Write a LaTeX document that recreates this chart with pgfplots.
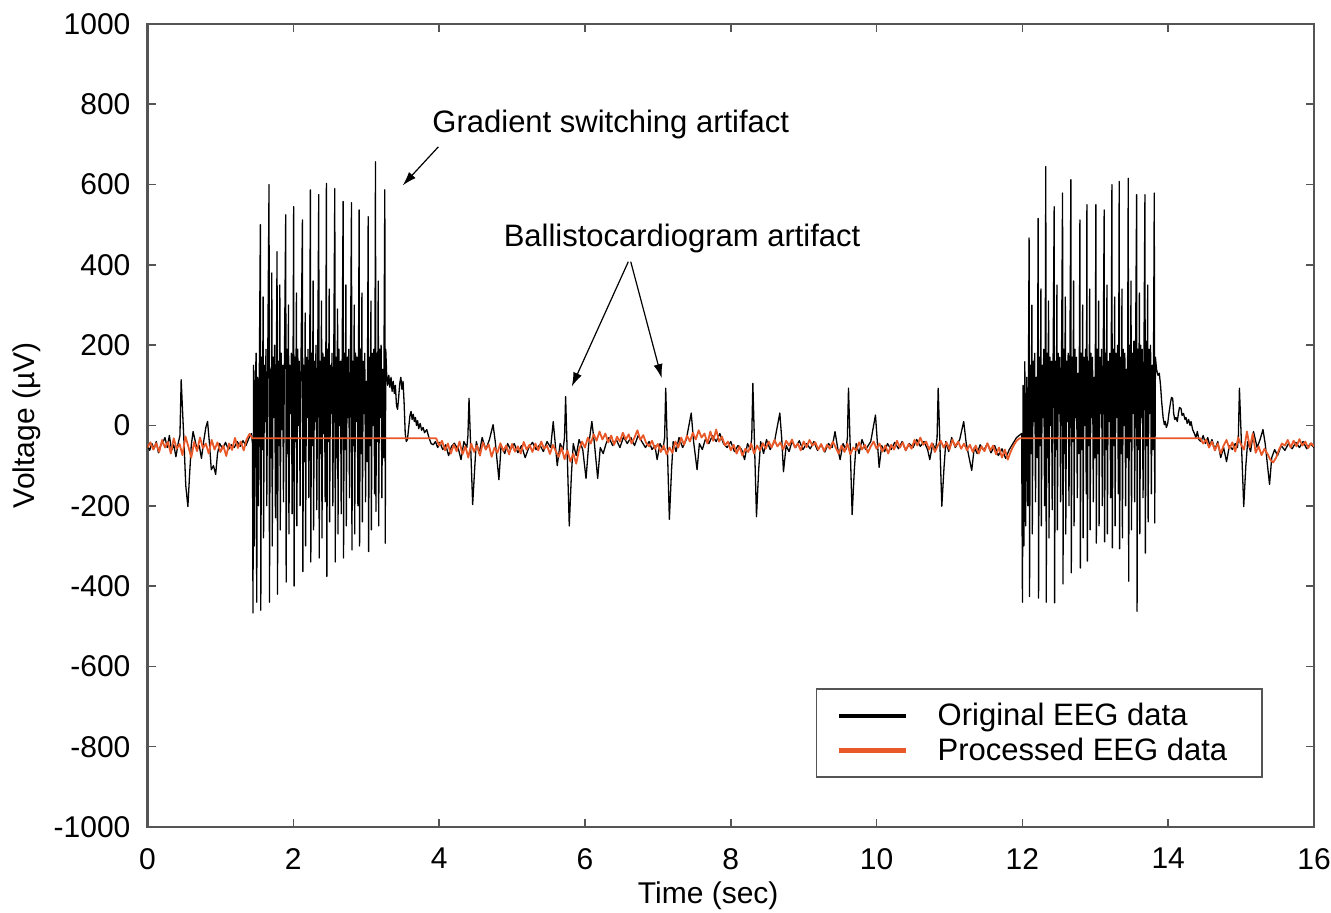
\documentclass[border=0pt]{standalone}
\usepackage{fontspec}
\setmainfont{Liberation Sans}
\usepackage{pgfplots}
\pgfplotsset{compat=1.18}
\usetikzlibrary{arrows.meta}
\definecolor{eegorange}{RGB}{232,88,40}
\definecolor{framegray}{RGB}{85,85,85}
\newcommand{\chartfont}{\fontsize{15}{18}\selectfont}
\newcommand{\notefont}{\fontsize{15.5}{18}\selectfont}

\begin{document}
\begin{tikzpicture}
\begin{axis}[
  name=ax,
  scale only axis,
  width=583.25pt, height=401.5pt,
  xmin=0, xmax=16, ymin=-1000, ymax=1000,
  xtick={0,2,...,16}, xticklabels={0,2,4,6,8,10,12,14,16},
  ytick={-1000,-800,...,1000},
  yticklabels={-1000,-800,-600,-400,-200,0,200,400,600,800,1000},
  tick align=inside, major tick length=4pt,
  tick style={framegray, line width=0.8pt},
  axis line style={framegray, line width=1.1pt},
  ticklabel style={font=\chartfont},
  xticklabel style={yshift=-7pt},
  yticklabel style={xshift=-5pt},
  xlabel={Time (sec)}, ylabel={Voltage (µV)},
  every axis x label/.style={at={([yshift=-34.5pt]axis description cs:0.4807,0)}, anchor=center, font=\chartfont},
  every axis y label/.style={at={([xshift=-60.5pt]axis description cs:0,0.5)}, rotate=90, anchor=center, font=\chartfont},
  legend style={at={(axis description cs:1,0)}, anchor=south east,
    xshift=-25.5pt, yshift=24.5pt, draw=framegray, line width=0.8pt,
    font=\notefont, inner xsep=10pt, inner ysep=7pt, row sep=4.5pt,
    column sep=0pt, nodes={inner sep=0pt}},
  legend cell align=left,
  legend image code/.code={\draw[line width=2.2pt] (0pt,0pt) -- (33.5pt,0pt); \path[draw=none] (0pt,0pt) -- (49.5pt,0pt);},
]

% original EEG
\addplot[black, line width=0.65pt, line join=round] coordinates {
(0.00,-50) (0.03,-62) (0.06,-45) (0.09,-58) (0.12,-40) (0.15,-68) (0.18,-50) (0.21,-42)
(0.24,-30) (0.27,-55) (0.30,-25) (0.33,-62) (0.36,-48) (0.39,-78) (0.42,-45) (0.445,-25)
(0.462,114) (0.475,60) (0.50,-40) (0.525,-150) (0.554,-202) (0.575,-130) (0.60,-50) (0.625,-15)
(0.65,-35) (0.68,-60) (0.71,-50) (0.74,-82) (0.77,-40) (0.80,-5) (0.824,10) (0.85,-45)
(0.875,-110) (0.905,-100) (0.935,-122) (0.96,-70) (0.99,-45) (1.03,-58) (1.07,-42) (1.11,-60)
(1.15,-48) (1.19,-55) (1.23,-40) (1.27,-52) (1.31,-38) (1.35,-50) (1.39,-32) (1.425,-20) (1.440,-45)
(1.447,-467) (1.455,150) (1.465,-300) (1.478,100) (1.490,180) (1.498,-440) (1.510,120) (1.522,-200) (1.535,160)
(1.548,500) (1.554,-460) (1.565,170) (1.575,-60) (1.586,320) (1.592,-280) (1.604,150) (1.614,10) (1.625,190) (1.636,-200) (1.647,110)
(1.667,600) (1.673,-440) (1.684,140) (1.694,-80) (1.705,380) (1.711,-300) (1.723,170) (1.733,20) (1.744,200) (1.755,-230) (1.766,90)
(1.777,433) (1.783,-420) (1.794,160) (1.804,-50) (1.815,350) (1.821,-260) (1.833,180) (1.843,-10) (1.854,150) (1.865,-190) (1.876,120)
(1.896,525) (1.902,-390) (1.913,190) (1.923,-70) (1.934,300) (1.940,-270) (1.952,150) (1.962,30) (1.973,180) (1.984,-220) (1.995,100)
(2.005,545) (2.011,-400) (2.022,170) (2.032,-40) (2.043,330) (2.049,-250) (2.061,190) (2.071,0) (2.082,160) (2.093,-200) (2.104,130)
(2.125,512) (2.131,-364) (2.142,150) (2.152,-90) (2.163,280) (2.169,-300) (2.181,170) (2.191,20) (2.202,190) (2.213,-180) (2.224,110)
(2.234,587) (2.240,-340) (2.251,180) (2.261,-50) (2.272,360) (2.278,-260) (2.290,160) (2.300,10) (2.311,200) (2.322,-210) (2.333,120)
(2.349,575) (2.355,-330) (2.366,160) (2.376,-70) (2.387,310) (2.393,-280) (2.405,180) (2.415,-20) (2.426,170) (2.437,-190) (2.445,100)
(2.454,603) (2.460,-376) (2.471,190) (2.481,-40) (2.492,340) (2.498,-240) (2.510,150) (2.520,30) (2.531,180) (2.542,-200) (2.553,120)
(2.569,590) (2.575,-340) (2.586,170) (2.596,-80) (2.607,290) (2.613,-270) (2.625,190) (2.635,0) (2.646,160) (2.657,-220) (2.668,110)
(2.683,558) (2.689,-330) (2.700,180) (2.710,-60) (2.721,350) (2.727,-250) (2.739,170) (2.749,20) (2.760,190) (2.771,-180) (2.782,100)
(2.798,555) (2.804,-310) (2.815,160) (2.825,-50) (2.836,300) (2.842,-270) (2.854,180) (2.864,10) (2.875,170) (2.886,-200) (2.893,120)
(2.903,537) (2.909,-300) (2.920,190) (2.930,-70) (2.941,330) (2.947,-240) (2.959,160) (2.969,30) (2.980,180) (2.991,-190) (3.002,110) (3.012,-90)
(3.027,520) (3.033,-314) (3.044,170) (3.054,-50) (3.065,310) (3.071,-260) (3.083,180) (3.093,0) (3.104,190) (3.115,-170)
(3.127,657) (3.133,-214) (3.144,180) (3.154,-40) (3.165,360) (3.171,-250) (3.183,190) (3.193,20) (3.204,200) (3.215,-180) (3.226,140) (3.237,-80)
(3.255,587) (3.261,-293) (3.268,190)
(3.280,130) (3.295,100) (3.310,125) (3.325,95) (3.340,120) (3.355,85) (3.370,110) (3.385,80) (3.400,100) (3.415,50)
(3.430,40) (3.445,70) (3.460,105) (3.475,120) (3.490,90) (3.505,110) (3.520,55) (3.535,-20) (3.550,-40) (3.565,-35)
(3.580,-10) (3.600,25) (3.615,35) (3.630,15) (3.645,28) (3.660,10) (3.675,20) (3.690,0) (3.705,12) (3.720,-8)
(3.740,5) (3.760,-12) (3.780,-5) (3.800,-18) (3.830,-10) (3.860,-30) (3.890,-45) (3.920,-48) (3.950,-40)
(3.98,-55) (4.01,-42) (4.05,-60) (4.09,-48) (4.13,-75) (4.17,-52) (4.21,-44) (4.25,-58)
(4.26,-55) (4.30,-85) (4.34,-40) (4.38,-55) (4.395,-25) (4.41,68) (4.46,-197) (4.49,-100) (4.51,-40) (4.55,-70)
(4.59,-30) (4.64,-60) (4.69,-35) (4.74,2) (4.77,-40) (4.82,-135) (4.85,-50) (4.90,-70) (4.94,-45)
(4.98,-60) (5.03,-45) (5.08,-68) (5.13,-50) (5.18,-80) (5.23,-55) (5.28,-42) (5.33,-60) (5.38,-48) (5.43,-65) (5.48,-40) (5.53,-55)
(5.565,10) (5.62,-100) (5.66,-45) (5.70,-60) (5.72,-30) (5.735,72) (5.785,-250) (5.815,-120) (5.84,-45) (5.88,-75)
(5.92,-35) (5.97,-60) (6.015,-132) (6.05,-50) (6.095,10) (6.13,-45) (6.175,-132) (6.21,-55) (6.25,-70) (6.29,-45)
(6.33,-30) (6.38,-50) (6.43,-35) (6.48,-55) (6.53,-28) (6.58,-45) (6.63,-30) (6.68,-50) (6.73,-25) (6.78,-40) (6.83,-55) (6.88,-40) (6.92,-60)
(6.96,-50) (6.99,-85) (7.03,-45) (7.07,-60) (7.093,-30) (7.108,93) (7.158,-234) (7.188,-110) (7.21,-40) (7.25,-65)
(7.29,-30) (7.34,-55) (7.39,-35) (7.458,31) (7.49,-40) (7.538,-110) (7.57,-45) (7.61,-60) (7.65,-35)
(7.70,-45) (7.75,-25) (7.80,-40) (7.85,-20) (7.90,-45) (7.95,-55) (8.00,-40) (8.05,-65) (8.10,-50)
(8.15,-60) (8.19,-85) (8.23,-45) (8.27,-60) (8.288,-30) (8.303,105) (8.353,-227) (8.383,-110) (8.41,-40) (8.45,-70)
(8.49,-35) (8.54,-60) (8.60,-40) (8.673,31) (8.70,-35) (8.723,-115) (8.76,-50) (8.80,-65) (8.84,-40)
(8.89,-55) (8.94,-38) (8.99,-60) (9.04,-45) (9.09,-58) (9.14,-40) (9.19,-62) (9.24,-48) (9.29,-66) (9.34,-45) (9.39,-55) (9.43,-15)
(9.47,-60) (9.50,-85) (9.54,-45) (9.58,-60) (9.600,-30) (9.615,93) (9.665,-222) (9.695,-110) (9.72,-45) (9.76,-70)
(9.80,-35) (9.85,-60) (9.92,-40) (9.985,26) (10.01,-40) (10.035,-104) (10.07,-50) (10.11,-65) (10.15,-45)
(10.20,-60) (10.25,-42) (10.30,-58) (10.35,-40) (10.40,-62) (10.45,-45) (10.50,-55) (10.55,-35) (10.60,-52) (10.65,-40)
(10.70,-60) (10.73,-85) (10.77,-45) (10.81,-60) (10.83,-30) (10.845,93) (10.895,-201) (10.925,-105) (10.95,-40) (10.99,-65)
(11.03,-30) (11.08,-55) (11.14,-35) (11.195,10) (11.23,-45) (11.305,-112) (11.34,-55) (11.38,-70)
(11.42,-48) (11.47,-62) (11.52,-45) (11.57,-68) (11.62,-50) (11.67,-75) (11.72,-58) (11.77,-82) (11.82,-60) (11.87,-45) (11.92,-30) (11.99,-20)
(12.001,-440) (12.010,100) (12.020,-300) (12.033,159) (12.045,-250) (12.060,120) (12.075,-200)
(12.092,467) (12.098,-426) (12.109,150) (12.119,-70) (12.130,300) (12.136,-270) (12.148,160) (12.158,10) (12.169,180) (12.180,-190) (12.191,120) (12.204,-80)
(12.216,516) (12.222,-430) (12.233,170) (12.243,-50) (12.254,340) (12.260,-250) (12.272,150) (12.282,20) (12.293,190) (12.304,-200) (12.312,100)
(12.321,645) (12.327,-440) (12.338,180) (12.348,-80) (12.359,310) (12.365,-280) (12.377,170) (12.387,0) (12.398,160) (12.409,-210) (12.420,130)
(12.436,545) (12.442,-442) (12.453,160) (12.463,-60) (12.474,350) (12.480,-260) (12.492,180) (12.502,30) (12.513,170) (12.524,-190) (12.535,110)
(12.551,579) (12.557,-395) (12.568,190) (12.578,-70) (12.589,320) (12.595,-270) (12.607,160) (12.617,10) (12.628,180) (12.639,-200) (12.650,120)
(12.665,612) (12.671,-367) (12.682,170) (12.692,-40) (12.703,360) (12.709,-250) (12.721,190) (12.731,20) (12.742,170) (12.753,-180) (12.764,130) (12.776,-70)
(12.789,512) (12.795,-355) (12.806,180) (12.816,-60) (12.827,300) (12.833,-280) (12.845,170) (12.855,0) (12.866,190) (12.876,-170)
(12.885,550) (12.891,-338) (12.902,160) (12.912,-50) (12.923,340) (12.929,-260) (12.941,180) (12.951,20) (12.962,170) (12.973,-190) (12.984,120) (12.996,-80)
(13.008,550) (13.014,-293) (13.025,190) (13.035,-70) (13.046,310) (13.052,-250) (13.064,170) (13.074,30) (13.085,190) (13.096,-200) (13.107,130)
(13.122,537) (13.128,-290) (13.139,180) (13.149,-60) (13.160,350) (13.166,-270) (13.178,160) (13.188,10) (13.199,180) (13.210,-180) (13.218,120)
(13.228,600) (13.234,-305) (13.245,190) (13.255,-50) (13.266,320) (13.272,-250) (13.284,180) (13.294,20) (13.305,200) (13.316,-170)
(13.328,608) (13.334,-307) (13.345,170) (13.355,-70) (13.366,340) (13.372,-280) (13.384,190) (13.394,0) (13.405,180) (13.416,-200) (13.427,140) (13.439,-80)
(13.452,616) (13.458,-388) (13.469,200) (13.479,-40) (13.490,360) (13.496,-260) (13.508,180) (13.518,30) (13.529,210) (13.540,-190) (13.551,150)
(13.567,575) (13.573,-463) (13.584,190) (13.594,-60) (13.605,330) (13.611,-270) (13.623,200) (13.633,20) (13.644,190) (13.655,-180) (13.666,140)
(13.681,575) (13.687,-318) (13.698,210) (13.708,-50) (13.719,350) (13.725,-240) (13.737,190) (13.747,30) (13.758,200) (13.769,-170) (13.780,150) (13.793,-60)
(13.809,579) (13.815,-243) (13.825,170)
(13.840,140) (13.860,125) (13.878,130) (13.895,100) (13.910,60) (13.930,20) (13.947,2) (13.960,10) (13.975,-5) (13.993,5)
(14.010,30) (14.030,55) (14.045,70) (14.062,67) (14.075,30) (14.090,15) (14.107,20) (14.125,10) (14.140,30) (14.155,45)
(14.176,42) (14.190,25) (14.210,30) (14.230,15) (14.244,20) (14.260,5) (14.280,15) (14.300,0) (14.313,10) (14.335,-10)
(14.359,-20) (14.380,-30) (14.400,-15) (14.420,-35) (14.450,-40) (14.480,-25) (14.510,-45) (14.542,-30) (14.570,-50) (14.600,-35)
(14.640,-60) (14.680,-40) (14.72,-80) (14.76,-55) (14.80,-90) (14.84,-50)
(14.88,-60) (14.92,-45) (14.95,-55) (14.962,-30) (14.977,93) (15.036,-202) (15.065,-100) (15.09,-40) (15.13,-65) (15.17,-15)
(15.22,-55) (15.26,-35) (15.30,-10) (15.33,-45) (15.39,-147) (15.42,-80) (15.46,-60) (15.50,-75) (15.55,-50) (15.60,-62)
(15.65,-45) (15.70,-58) (15.75,-42) (15.80,-55) (15.85,-40) (15.90,-58) (15.95,-45) (16.00,-55)
};
\addlegendentry{Original EEG data\hspace*{7.5pt}}

% processed EEG
\addplot[eegorange, line width=0.9pt, line join=round] coordinates {
(0.00,-55) (0.04,-42) (0.08,-60) (0.12,-44) (0.16,-66) (0.20,-36) (0.24,-55) (0.28,-41) (0.32,-70) (0.36,-32)
(0.40,-58) (0.44,-46) (0.48,-74) (0.52,-27) (0.56,-52) (0.60,-80) (0.64,-41) (0.68,-64) (0.72,-30) (0.76,-56)
(0.80,-45) (0.84,-70) (0.88,-36) (0.92,-60) (0.96,-42) (1.00,-66) (1.04,-50) (1.08,-76) (1.12,-45) (1.16,-61)
(1.20,-31) (1.24,-56) (1.28,-40) (1.32,-62) (1.36,-34) (1.40,-21) (1.44,-32) (3.96,-32)
(4.00,-50) (4.04,-38) (4.08,-62) (4.12,-45) (4.16,-70) (4.20,-48) (4.24,-64) (4.28,-40) (4.32,-72) (4.36,-52)
(4.40,-80) (4.44,-45) (4.48,-66) (4.52,-50) (4.56,-75) (4.60,-42) (4.64,-60) (4.68,-47) (4.72,-78) (4.76,-55)
(4.80,-68) (4.84,-44) (4.88,-63) (4.92,-50) (4.96,-72) (5.00,-46) (5.04,-65) (5.08,-52) (5.12,-70) (5.16,-41)
(5.20,-60) (5.24,-48) (5.28,-66) (5.32,-45) (5.36,-62) (5.40,-40) (5.44,-58) (5.48,-50) (5.52,-71) (5.56,-48)
(5.60,-64) (5.64,-78) (5.68,-55) (5.72,-84) (5.76,-62) (5.80,-90) (5.84,-70) (5.88,-95) (5.92,-60) (5.96,-40)
(6.00,-55) (6.04,-30) (6.08,-45) (6.12,-22) (6.16,-38) (6.20,-15) (6.24,-35) (6.28,-20) (6.32,-42) (6.36,-25)
(6.40,-48) (6.44,-28) (6.48,-40) (6.52,-18) (6.56,-35) (6.60,-22) (6.64,-45) (6.68,-30) (6.72,-12) (6.76,-36)
(6.80,-24) (6.84,-44) (6.88,-52) (6.92,-38) (6.96,-58) (7.00,-46) (7.04,-66) (7.08,-50) (7.12,-72) (7.16,-55)
(7.20,-68) (7.24,-40) (7.28,-55) (7.32,-30) (7.36,-48) (7.40,-25) (7.44,-40) (7.48,-18) (7.52,-35) (7.56,-12)
(7.60,-30) (7.64,-20) (7.68,-45) (7.72,-15) (7.76,-38) (7.80,-10) (7.84,-40) (7.88,-28) (7.92,-50) (7.96,-40)
(8.00,-62) (8.04,-48) (8.08,-70) (8.12,-52) (8.16,-75) (8.20,-58) (8.24,-66) (8.28,-45) (8.32,-70) (8.36,-50)
(8.40,-62) (8.44,-44) (8.48,-58) (8.52,-40) (8.56,-55) (8.60,-36) (8.64,-52) (8.68,-42) (8.72,-60) (8.76,-38)
(8.80,-50) (8.84,-35) (8.88,-55) (8.92,-45) (8.96,-62) (9.00,-40) (9.04,-54) (9.08,-36) (9.12,-50) (9.16,-42)
(9.20,-60) (9.24,-46) (9.28,-64) (9.32,-48) (9.36,-58) (9.40,-40) (9.44,-55) (9.48,-70) (9.52,-50) (9.56,-66)
(9.60,-45) (9.64,-72) (9.68,-55) (9.72,-62) (9.76,-42) (9.80,-60) (9.84,-48) (9.88,-68) (9.92,-52) (9.96,-40)
(10.00,-58) (10.04,-45) (10.08,-65) (10.12,-50) (10.16,-70) (10.20,-48) (10.24,-60) (10.28,-38) (10.32,-55) (10.36,-42)
(10.40,-62) (10.44,-46) (10.48,-58) (10.52,-36) (10.56,-50) (10.60,-30) (10.64,-48) (10.68,-40) (10.72,-60) (10.76,-44)
(10.80,-66) (10.84,-50) (10.88,-38) (10.92,-55) (10.96,-42) (11.00,-60) (11.04,-35) (11.08,-52) (11.12,-40) (11.16,-58)
(11.20,-45) (11.24,-62) (11.28,-48) (11.32,-66) (11.36,-50) (11.40,-70) (11.44,-52) (11.48,-64) (11.52,-44) (11.56,-62)
(11.60,-50) (11.64,-72) (11.68,-55) (11.72,-80) (11.76,-60) (11.80,-85) (11.84,-65) (11.88,-50) (11.92,-38) (11.96,-32)
(14.44,-32)
(14.48,-45) (14.52,-35) (14.56,-55) (14.60,-40) (14.64,-62) (14.68,-45) (14.72,-70) (14.76,-50) (14.80,-36) (14.84,-58)
(14.88,-42) (14.92,-65) (14.96,-30) (15.00,-48) (15.04,-60) (15.08,-15) (15.12,-55) (15.16,-20) (15.20,-68) (15.24,-52)
(15.28,-74) (15.32,-58) (15.36,-70) (15.40,-85) (15.44,-92) (15.48,-80) (15.52,-60) (15.56,-45) (15.60,-50) (15.64,-36)
(15.68,-55) (15.72,-38) (15.76,-52) (15.80,-34) (15.84,-50) (15.88,-40) (15.92,-56) (15.96,-44) (16.00,-52)
};
\addlegendentry{Processed EEG data\hspace*{7.5pt}}

\node[anchor=base west, inner sep=0pt, font=\notefont] at (axis cs:3.903,728.5) {Gradient switching artifact};
\draw[-{Latex[length=7pt,width=4.5pt]}, line width=0.6pt] (axis cs:3.989,694) -- (axis cs:3.501,598);
\node[anchor=base west, inner sep=0pt, font=\notefont] at (axis cs:4.881,445.3) {Ballistocardiogram artifact};
\draw[-{Latex[length=7pt,width=4.5pt]}, line width=0.6pt] (axis cs:6.595,408) -- (axis cs:5.819,97);
\draw[-{Latex[length=7pt,width=4.5pt]}, line width=0.6pt] (axis cs:6.628,408) -- (axis cs:7.053,118);
\end{axis}
\pgfresetboundingbox
\path[use as bounding box] ([xshift=-73.75pt,yshift=-43pt]ax.south west) rectangle ([xshift=8.5pt,yshift=12pt]ax.north east);
\end{tikzpicture}
\end{document}
